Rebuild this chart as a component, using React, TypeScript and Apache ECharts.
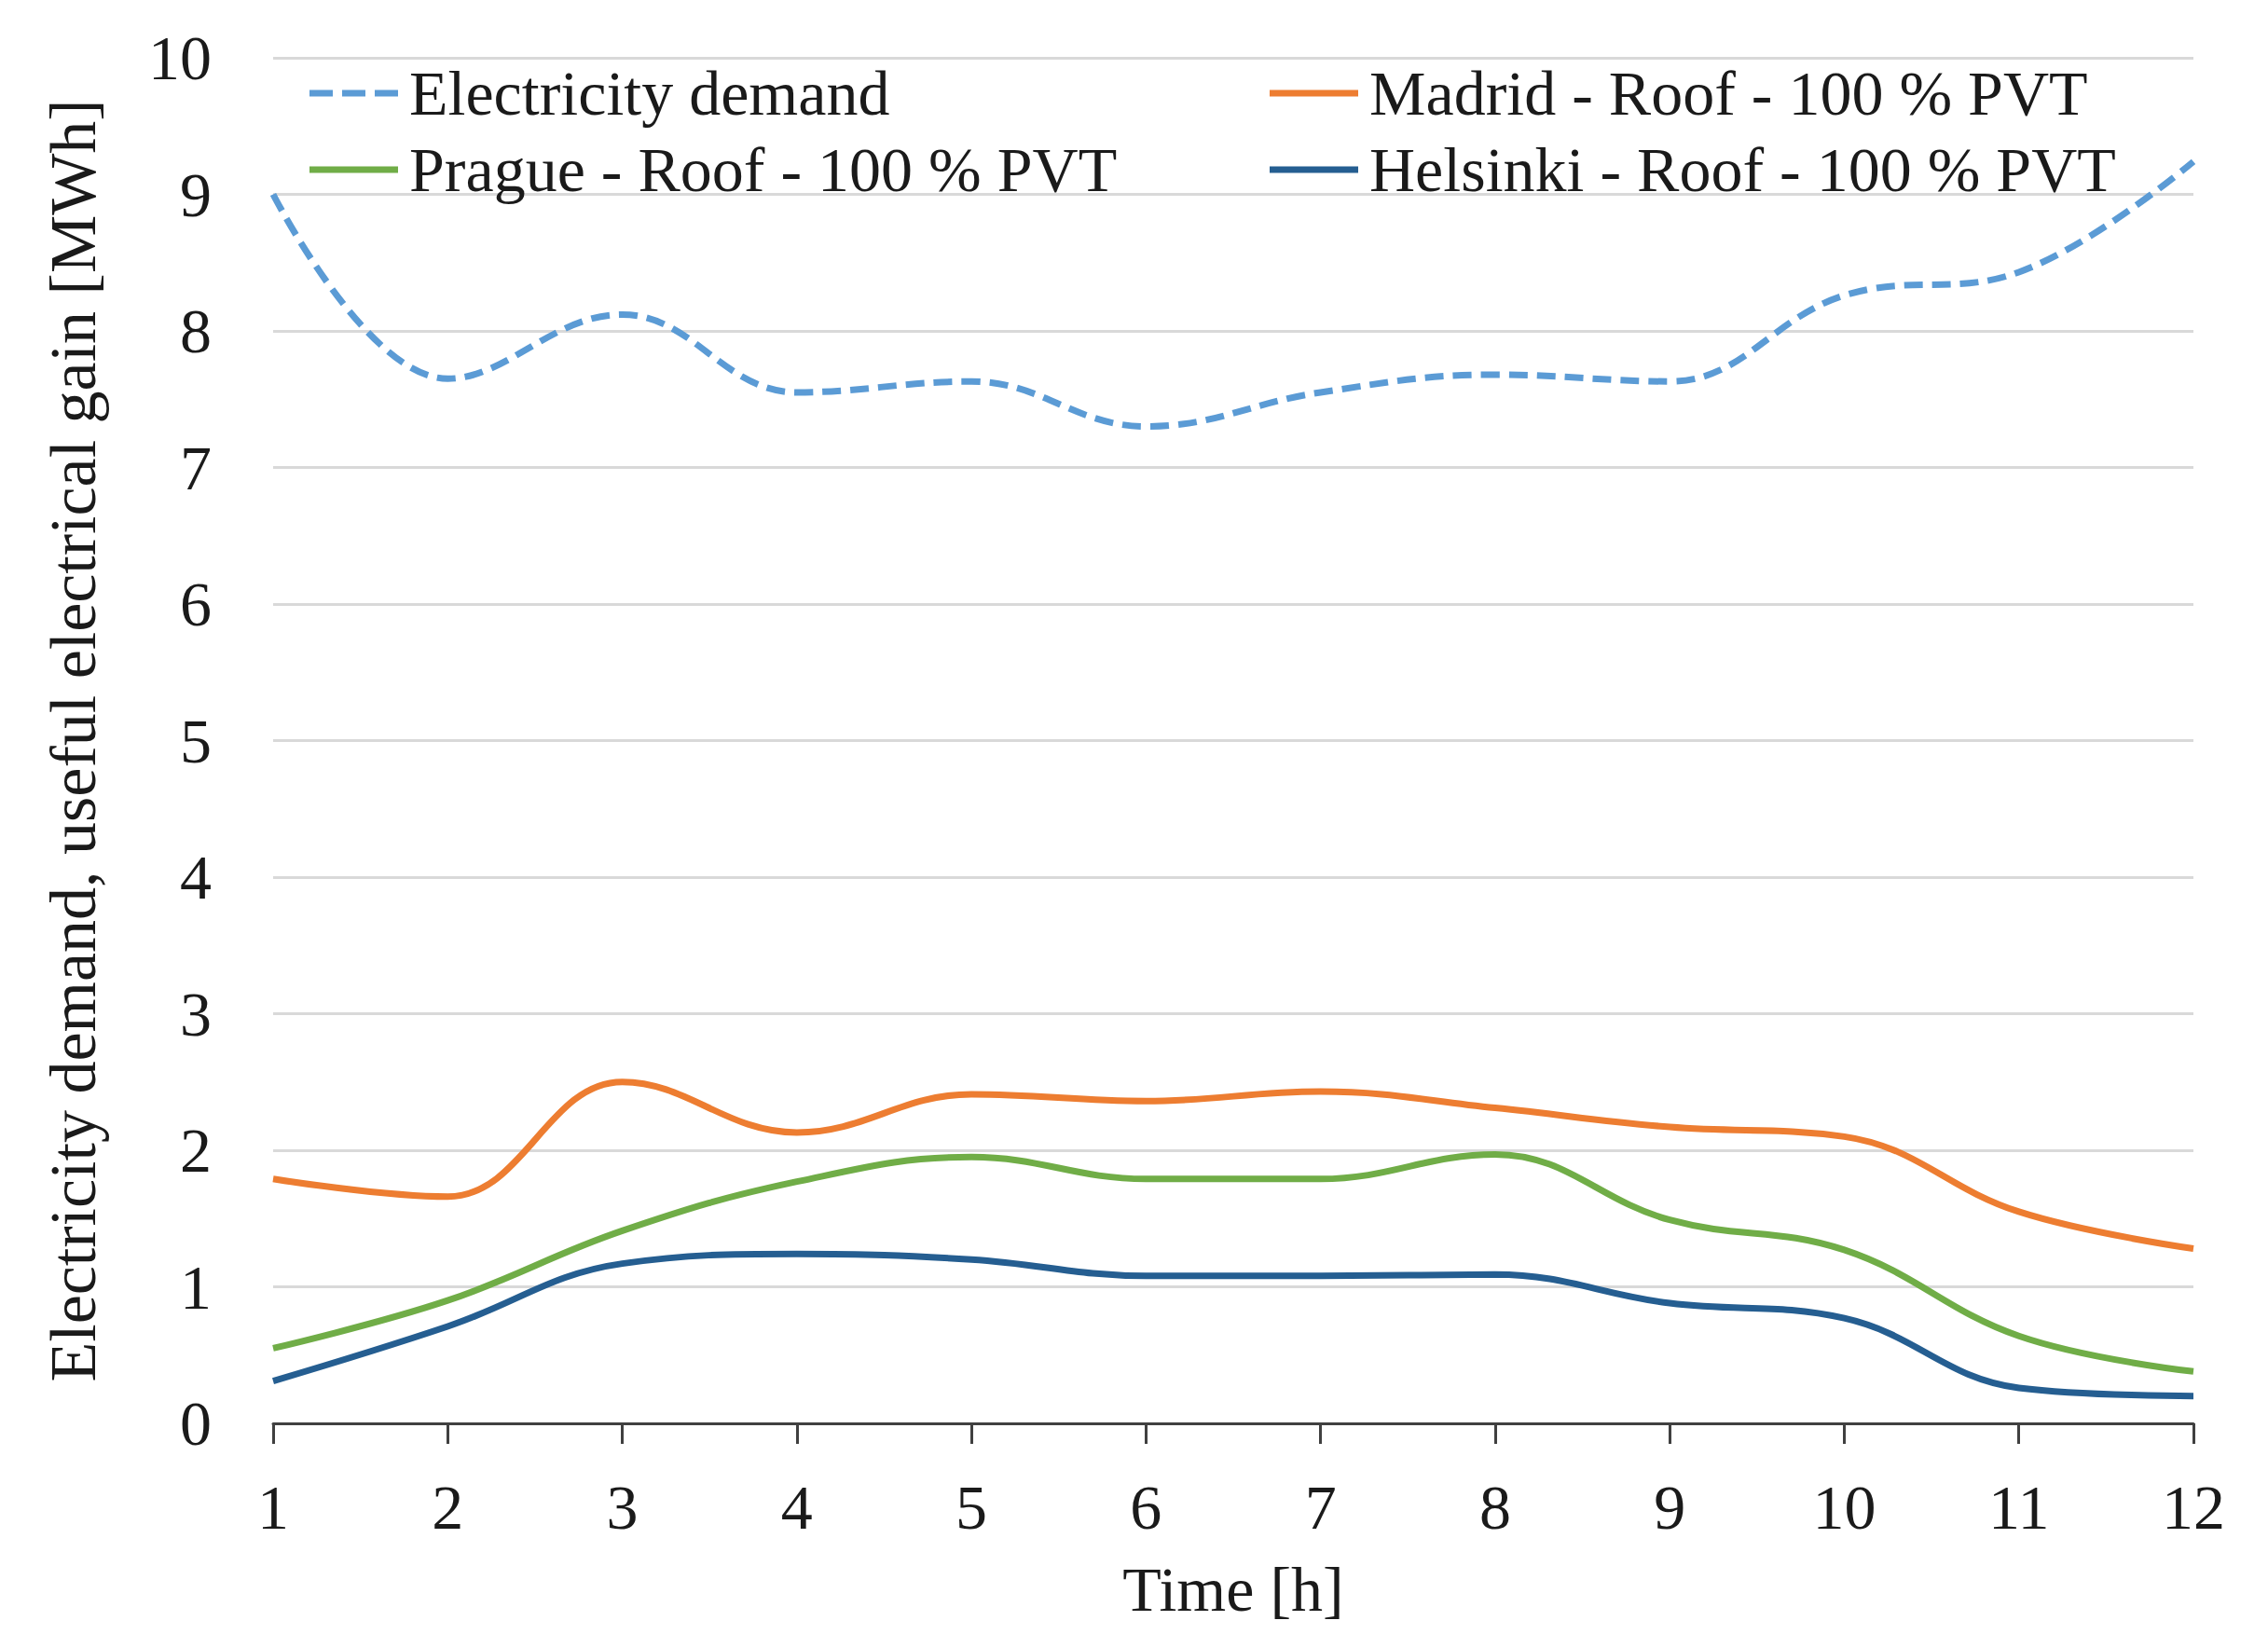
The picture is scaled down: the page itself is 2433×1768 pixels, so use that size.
import React, { useEffect, useRef } from "react";
import * as echarts from "echarts";

const hours = [1, 2, 3, 4, 5, 6, 7, 8, 9, 10, 11, 12];
const demand = [9.0, 7.65, 8.12, 7.55, 7.63, 7.3, 7.55, 7.68, 7.63, 8.26, 8.43, 9.24];
const madrid = [1.79, 1.66, 2.5, 2.13, 2.41, 2.36, 2.43, 2.31, 2.17, 2.1, 1.55, 1.28];
const prague = [0.55, 0.9, 1.41, 1.77, 1.95, 1.79, 1.79, 1.97, 1.49, 1.27, 0.64, 0.38];
const helsinki = [0.31, 0.71, 1.17, 1.24, 1.2, 1.08, 1.08, 1.09, 0.88, 0.77, 0.26, 0.2];

const seriesNames = [
  "Electricity demand",
  "Madrid - Roof - 100 % PVT",
  "Prague - Roof - 100 % PVT",
  "Helsinki - Roof - 100 % PVT",
];
const seriesColors = ["#5B9BD5", "#ED7D31", "#70AD47", "#255E91"];
const yTicks = { min: 0, max: 10, interval: 1 };
const xTicks = { min: 1, max: 12, interval: 1 };

const FONT = "'Liberation Serif', 'DejaVu Serif', serif";
const TEXT = "#1a1a1a";

const DASH_ICON = "path://M0,0h25v7h-25z M35,0h25v7h-25z M70,0h25v7h-25z";
const SOLID_ICON = "path://M0,0h95v7h-95z";

export default function App() {
  const ref = useRef<HTMLDivElement>(null);
  useEffect(() => {
    if (!ref.current) return;
    const chart = echarts.init(ref.current, undefined, { renderer: "svg" });
    const allData = [demand, madrid, prague, helsinki];
    const legendPos = [
      { left: 324, top: 58 },
      { left: 1354, top: 58 },
      { left: 324, top: 140 },
      { left: 1354, top: 140 },
    ];
    const option: any = {
      animation: false,
      backgroundColor: "#ffffff",
      textStyle: { fontFamily: FONT },
      grid: { left: 285, right: 72, top: 54, bottom: 233, containLabel: false },
      legend: seriesNames.map((n, i) => ({
        data: [{ name: n, icon: i === 0 ? DASH_ICON : SOLID_ICON }],
        left: legendPos[i].left,
        top: legendPos[i].top,
        itemWidth: 97,
        itemHeight: 7,
        padding: 0,
        textStyle: { fontFamily: FONT, fontSize: 68, color: TEXT, padding: [0, 0, 0, 6] },
      })),
      xAxis: {
        type: "value",
        min: xTicks.min,
        max: xTicks.max,
        interval: xTicks.interval,
        name: "Time [h]",
        nameLocation: "middle",
        nameGap: 144,
        nameTextStyle: { fontFamily: FONT, fontSize: 68, color: TEXT },
        axisLine: { show: true, lineStyle: { color: "#404040", width: 3 } },
        axisTick: { show: true, length: 22, lineStyle: { color: "#404040", width: 3 } },
        axisLabel: { fontFamily: FONT, fontSize: 68, color: TEXT, margin: 56 },
        splitLine: { show: false },
      },
      yAxis: {
        type: "value",
        min: yTicks.min,
        max: yTicks.max,
        interval: yTicks.interval,
        name: "Electricity demand, useful electrical gain [MWh]",
        nameLocation: "middle",
        nameGap: 180,
        nameTextStyle: { fontFamily: FONT, fontSize: 70, color: TEXT },
        axisLine: { show: false },
        axisTick: { show: false },
        axisLabel: { fontFamily: FONT, fontSize: 68, color: TEXT, margin: 66 },
        splitLine: { show: true, lineStyle: { color: "#d9d9d9", width: 3 } },
      },
      series: seriesNames.map((n, i) => ({
        name: n,
        type: "line",
        smooth: 0.4,
        symbol: "none",
        color: seriesColors[i],
        lineStyle: {
          color: seriesColors[i],
          width: 7,
          type: i === 0 ? [20, 10] : "solid",
        },
        data: hours.map((h, k) => [h, allData[i][k]]),
        z: 10 - i,
      })),
    };
    chart.setOption(option);
    return () => chart.dispose();
  }, []);
  return <div ref={ref} style={{ width: 2417, height: 1752 }} />;
}
